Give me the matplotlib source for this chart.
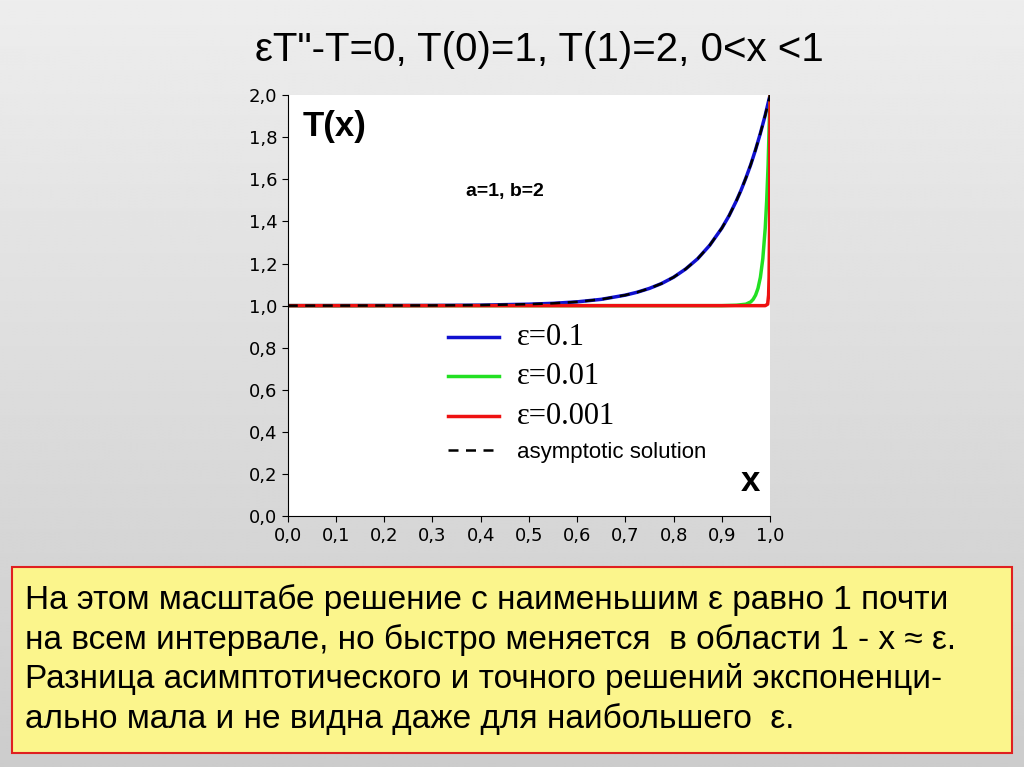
import numpy as np
import matplotlib
matplotlib.use('Agg')
import matplotlib.pyplot as plt
from matplotlib.ticker import FuncFormatter
from matplotlib.patches import FancyBboxPatch

# values
x_e1 = [0.0, 0.3, 0.4, 0.5, 0.55, 0.6, 0.65, 0.7, 0.725, 0.75, 0.775, 0.8, 0.825, 0.85, 0.875,
        0.9, 0.915, 0.93, 0.94, 0.95, 0.96, 0.97, 0.98, 0.99, 1.0]
t_e1 = [1.0, 1.001, 1.0025, 1.007, 1.011, 1.018, 1.030, 1.050, 1.064, 1.082, 1.105, 1.135, 1.174,
        1.223, 1.287, 1.368, 1.427, 1.497, 1.549, 1.607, 1.670, 1.741, 1.819, 1.905, 2.0]
x_e2 = [0.0, 0.9, 0.93, 0.95, 0.96, 0.965, 0.97, 0.975, 0.98, 0.985, 0.99, 0.993, 0.996, 1.0]
t_e2 = [1.0, 1.0, 1.002, 1.007, 1.018, 1.030, 1.050, 1.082, 1.135, 1.223, 1.368, 1.497, 1.670, 2.0]
x_e3 = [0.0, 0.99, 0.995, 0.997, 0.998, 0.999, 0.9995, 1.0]
t_e3 = [1.0, 1.0, 1.007, 1.050, 1.135, 1.368, 1.607, 2.0]

fig = plt.figure(figsize=(10.24, 7.67), dpi=100)
# gray slide background
bg = fig.add_axes([0, 0, 1, 1], zorder=-10)
grad = np.linspace(0.93, 0.80, 256)[:, None] * np.ones((1, 2))
bg.imshow(grad, cmap='gray', vmin=0, vmax=1, aspect='auto', extent=[0, 1, 0, 1])
bg.axis('off')

fig.text(0.527, 0.935, 'εT"-T=0, T(0)=1, T(1)=2, 0<x <1', ha='center', va='center',
         fontsize=29, family='Liberation Sans')

ax = fig.add_axes([0.281, 0.327, 0.471, 0.549])
ax.set_facecolor('white')
ax.plot(x_e1, t_e1, color='#1010d0', lw=2.5, label='ε=0.1')
ax.plot(x_e2, t_e2, color='#22e022', lw=2.5, label='ε=0.01')
ax.plot(x_e3, t_e3, color='#ee1111', lw=2.5, label='ε=0.001')
ax.plot(x_e1, t_e1, color='black', lw=1.8, ls=(0, (4, 3)), label='asymptotic solution')
ax.set_xlim(0, 1)
ax.set_ylim(0, 2)
ax.set_xticks(np.arange(0, 1.01, 0.1))
ax.set_yticks(np.arange(0, 2.01, 0.2))
fmt = FuncFormatter(lambda v, p: f'{v:.1f}'.replace('.', ','))
ax.xaxis.set_major_formatter(fmt)
ax.yaxis.set_major_formatter(fmt)
ax.tick_params(labelsize=13, direction='out', length=4)
for s in ['top', 'right']:
    ax.spines[s].set_visible(False)
ax.text(0.03, 1.93, 'T(x)', fontsize=25, fontweight='bold', family='Liberation Sans', va='top')
ax.text(0.37, 1.52, 'a=1, b=2', fontsize=14, fontweight='bold', family='Liberation Sans')
ax.text(0.98, 0.12, 'x', fontsize=25, fontweight='bold', family='Liberation Sans', ha='right')
leg = ax.legend(loc='lower left', bbox_to_anchor=(0.29, 0.08), frameon=False,
                fontsize=16, handlelength=2.3, labelspacing=0.48)
for t in leg.get_texts()[:3]:
    t.set_family('Liberation Serif')
    t.set_fontsize(22)
leg.get_texts()[3].set_fontsize(16)
leg.get_texts()[3].set_family('Liberation Sans')

fig.patches.append(FancyBboxPatch((0.012, 0.018), 0.976, 0.243, boxstyle='square,pad=0',
                                  transform=fig.transFigure, facecolor='#fbf58c',
                                  edgecolor='#e02020', lw=1.5))
msg = ('На этом масштабе решение с наименьшим ε равно 1 почти\n'
       'на всем интервале, но быстро меняется  в области 1 - x ≈ ε.\n'
       'Разница асимптотического и точного решений экспоненци-\n'
       'ально мала и не видна даже для наибольшего  ε.')
fig.text(0.024, 0.14, msg, ha='left', va='center', fontsize=24,
         family='Liberation Sans', linespacing=1.3)

fig.savefig('out.png', dpi=100)
